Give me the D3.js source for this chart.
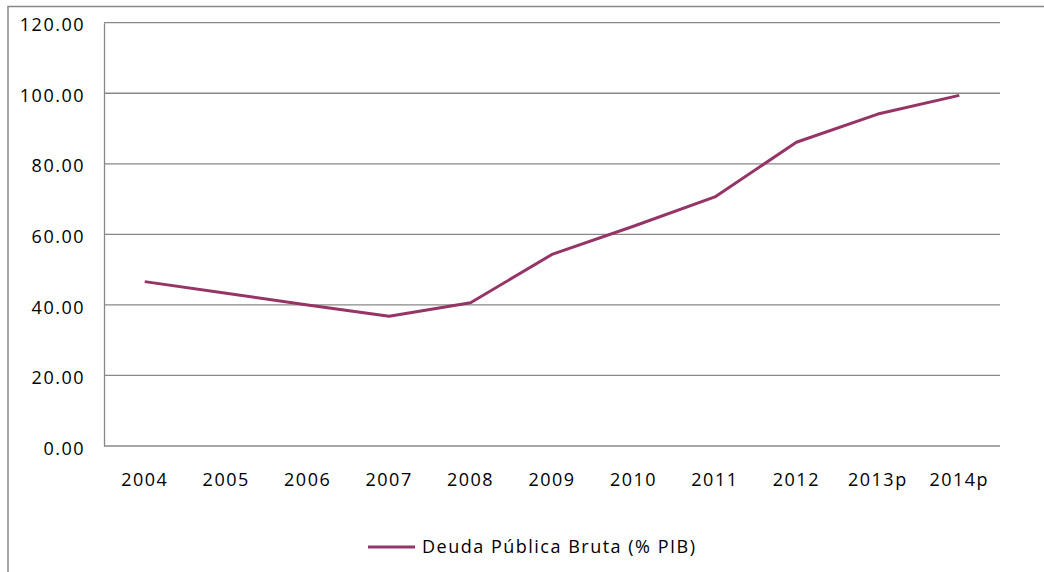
<!DOCTYPE html>
<html>
<head>
<meta charset="utf-8">
<script src="https://cdn.jsdelivr.net/npm/d3@7"></script>
<style>
  body { margin: 0; background: #fff; }
  svg text { font-family: "Open Sans", sans-serif; fill: #000; letter-spacing: 1.5px; }
</style>
</head>
<body>
<script>
const years = ["2004", "2005", "2006", "2007", "2008", "2009", "2010", "2011", "2012", "2013p", "2014p"];
const deuda = [46.6, 43.3, 40.0, 36.8, 40.6, 54.3, 62.3, 70.6, 86.1, 94.1, 99.4];
const yTicks = [0, 20, 40, 60, 80, 100, 120];
const seriesName = "Deuda Pública Bruta (% PIB)";

const w = 1044, h = 572;
const plotLeft = 104, plotRight = 1000, plotTop = 22.7, plotBottom = 446;
const lineColor = "#953466";
const gridColor = "#888888";
const fontSize = "18px";

const svg = d3.select("body").append("svg")
  .attr("width", w)
  .attr("height", h);

// outer chart frame (only top and left visible)
svg.append("path")
  .attr("d", `M8,${h + 5} L8,6.5 L${w + 5},6.5`)
  .attr("fill", "none")
  .attr("stroke", gridColor)
  .attr("stroke-width", 1.5);

const x = d3.scaleBand().domain(years).range([plotLeft, plotRight]);
const y = d3.scaleLinear().domain([0, 120]).range([plotBottom, plotTop]);

// gridlines
svg.append("g")
  .selectAll("line")
  .data(yTicks)
  .join("line")
  .attr("x1", plotLeft).attr("x2", plotRight)
  .attr("y1", d => y(d)).attr("y2", d => y(d))
  .attr("stroke", gridColor)
  .attr("stroke-width", 1.3);

// y axis
const yAxis = d3.axisLeft(y).tickValues(yTicks).tickFormat(d3.format(".2f")).tickSize(0).tickPadding(19);
const gy = svg.append("g").attr("transform", `translate(${plotLeft},0)`).call(yAxis);
gy.select(".domain").attr("stroke", gridColor).attr("stroke-width", 1.3);
gy.selectAll("text").style("font-size", fontSize).attr("dy", "0.45em");

// x axis
const xAxis = d3.axisBottom(x).tickSize(0).tickPadding(27);
const gx = svg.append("g").attr("transform", `translate(0,${plotBottom})`).call(xAxis);
gx.select(".domain").remove();
gx.selectAll("text").style("font-size", fontSize);

// line
const line = d3.line()
  .x((d, i) => x(years[i]) + x.bandwidth() / 2)
  .y(d => y(d));

svg.append("path")
  .datum(deuda)
  .attr("d", line)
  .attr("fill", "none")
  .attr("stroke", lineColor)
  .attr("stroke-width", 3)
  .attr("stroke-linejoin", "round");

// legend
const legend = svg.append("g").attr("transform", "translate(368,547)");
legend.append("line")
  .attr("x1", 0).attr("x2", 47)
  .attr("stroke", lineColor)
  .attr("stroke-width", 3);
legend.append("text")
  .attr("x", 54)
  .attr("dy", "0.35em")
  .style("font-size", fontSize)
  .text(seriesName);
</script>
</body>
</html>
